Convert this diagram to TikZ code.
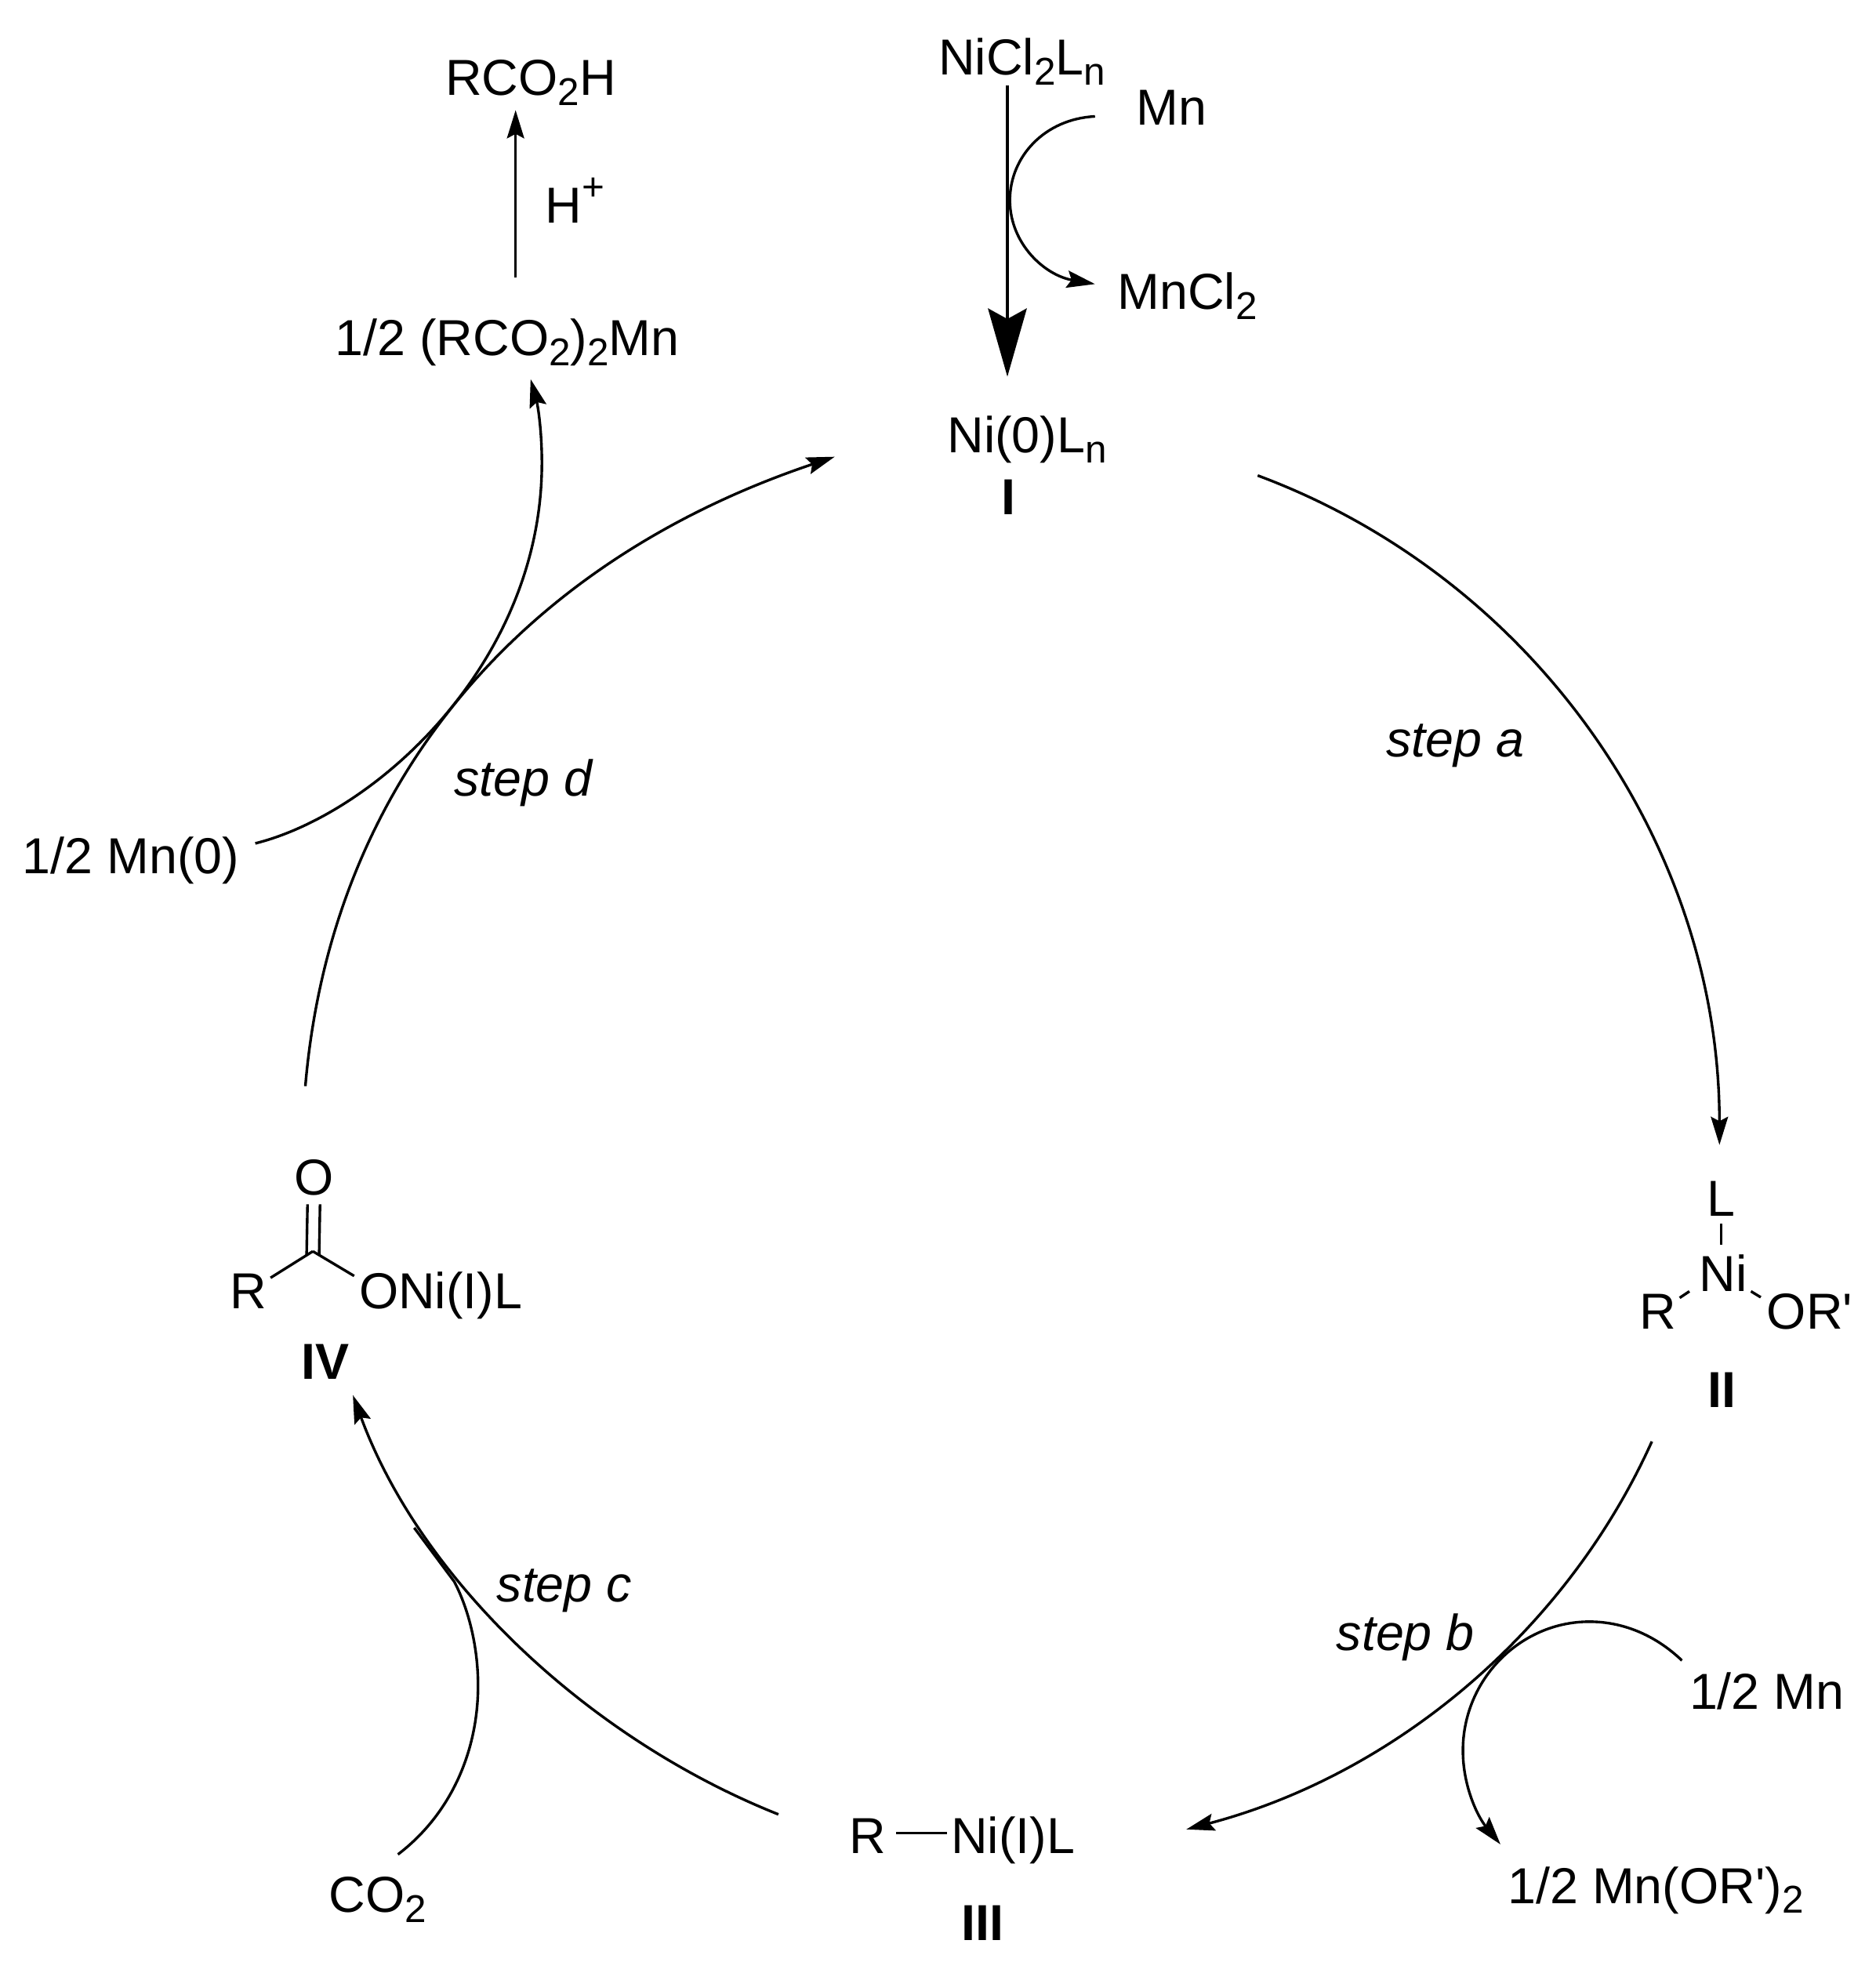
\documentclass[tikz,border=0pt]{standalone}
\usepackage{fontspec}
\setmainfont[Ligatures=TeXOff]{Liberation Sans}
\usetikzlibrary{arrows.meta}
\newcommand{\sbs}[1]{\raisebox{-0.2em}{\fontsize{8.8}{9}\selectfont #1}}
\newcommand{\sps}[1]{\raisebox{0.45em}{\fontsize{8.8}{9}\selectfont #1}}
\tikzset{
  every node/.style={font=\fontsize{11.5}{13}\selectfont, inner sep=0pt, outer sep=0pt},
  chem/.style={anchor=base west},
  cmpd/.style={anchor=base, font=\fontsize{11.5}{13}\selectfont\bfseries},
  stepname/.style={anchor=base west, font=\fontsize{11.5}{13}\selectfont\itshape},
  arc/.style={line width=0.6pt, -{Stealth[length=6.4pt, width=3.9pt, inset=1pt]}},
  side/.style={line width=0.6pt},
  bond/.style={line width=0.6pt}
}
\begin{document}
\begin{tikzpicture}[x=0.01cm, y=-0.01cm]
  \useasboundingbox (0,0) rectangle (1499,1568);

  \node[chem] (nicl) at (750,60) {NiCl\sbs{2}L\sbs{n}};
  \node[chem] (mn) at (908,100) {Mn};
  \node[chem] (mncl) at (893,247) {MnCl\sbs{2}};
  \node[chem] (ni0) at (757,362) {Ni(0)L\sbs{n}};
  \node[cmpd] (cI) at (806,411) {I};
  \node[chem] (acid) at (356,76) {RCO\sbs{2}H};
  \node[chem] (hplus) at (436,178) {H\sps{+}};
  \node[chem] (salt) at (268,284) {1/2 (RCO\sbs{2})\sbs{2}Mn};
  \node[chem] (mnzero) at (18,698) {1/2 Mn(0)};
  \node[chem] (mnhalf) at (1350,1366) {1/2 Mn};
  \node[chem] (mnor) at (1205,1521) {1/2 Mn(OR')\sbs{2}};
  \node[chem] (coo) at (263,1528) {CO\sbs{2}};

  \node[stepname] (stepa) at (1108,605) {step a};
  \node[stepname] (stepb) at (1068,1319) {step b};
  \node[stepname] (stepc) at (397,1280) {step c};
  \node[stepname] (stepd) at (363,636) {step d};

  \node[chem] (lII) at (1364,972) {L};
  \node[chem] (niII) at (1358,1032) {Ni};
  \node[chem] (rII) at (1310,1062) {R};
  \node[chem] (orII) at (1412,1062) {OR'};
  \node[cmpd] (cII) at (1376,1125) {II};

  \node[chem] (rIII) at (679,1481) {R};
  \node[chem] (niIII) at (760,1481) {Ni(I)L};
  \node[cmpd] (cIII) at (785,1551) {III};

  \node[chem] (oIV) at (235,955) {O};
  \node[chem] (rIV) at (184,1046) {R};
  \node[chem] (niIV) at (287,1046) {ONi(I)L};
  \node[cmpd] (cIV) at (260,1102) {IV};

  \coordinate (a0) at (1005,380);
  \coordinate (a1) at (1374,915);
  \coordinate (b0) at (1320,1152);
  \coordinate (b1) at (948,1462);
  \coordinate (c0) at (622,1450);
  \coordinate (c1) at (282,1115);
  \coordinate (d0) at (244,868);
  \coordinate (d1) at (667,365);
  \coordinate (top0) at (805,68);
  \coordinate (top1) at (805,301);
  \coordinate (acid0) at (412,222);
  \coordinate (acid1) at (412,88);
  \coordinate (mn0) at (875,93);
  \coordinate (mn1) at (875,227);
  \coordinate (zero0) at (204,674);
  \coordinate (zero1) at (424,303);
  \coordinate (half0) at (1344,1327);
  \coordinate (half1) at (1199,1474);
  \coordinate (coo0) at (318,1482);
  \coordinate (coo1) at (331,1221);
  \coordinate (carbon) at (250,1000);

  \draw[arc] (a0) .. controls (1228,463) and (1374,677) .. (a1);
  \draw[arc] (b0) .. controls (1252,1303) and (1115,1418) .. (b1);
  \draw[arc] (c0) .. controls (469,1389) and (336,1262) .. (c1);
  \draw[arc] (d0) .. controls (265,622) and (420,448) .. (d1);

  \draw[line width=0.65pt, -{Stealth[length=15.5pt, width=8.8pt, inset=2.4pt]}] (top0) -- (top1);
  \draw[arc] (acid0) -- (acid1);
  \draw[arc] (mn0) .. controls (835,95) and (807,125) .. (807,160) .. controls (807,195) and (835,220) .. (mn1);
  \draw[arc] (zero0) .. controls (300,650) and (433,530) .. (433,370) .. controls (433,345) and (430,325) .. (zero1);
  \draw[arc] (half0) .. controls (1322,1306) and (1296,1296) .. (1270,1296) .. controls (1215,1296) and (1169,1342) .. (1169,1399) .. controls (1169,1428) and (1181,1452) .. (half1);
  \draw[side] (coo0) .. controls (360,1450) and (382,1400) .. (382,1347) .. controls (382,1315) and (374,1285) .. (363,1264) -- (coo1);

  \draw[bond] ([yshift=-0.06cm]lII.south) -- ([yshift=0.08cm]lII.south |- niII.north);
  \draw[bond] ([xshift=0.03cm,yshift=-0.03cm]rII.north east) -- ([xshift=-0.08cm]niII.south west);
  \draw[bond] ([xshift=0.03cm]niII.south east) -- ([xshift=-0.05cm,yshift=-0.03cm]orII.north west);
  \draw[bond] ([xshift=0.08cm,yshift=0.16cm]rIII.base east) -- ([xshift=-0.03cm,yshift=0.16cm]niIII.base west);
  \draw[bond] ([xshift=-0.05cm,yshift=-0.07cm]oIV.south) -- ([xshift=-0.05cm,yshift=-0.03cm]carbon);
  \draw[bond] ([xshift=0.05cm,yshift=-0.07cm]oIV.south) -- ([xshift=0.05cm,yshift=-0.03cm]carbon);
  \draw[bond] ([xshift=0.03cm,yshift=-0.03cm]rIV.north east) -- (carbon);
  \draw[bond] (carbon) -- ([xshift=-0.04cm,yshift=-0.03cm]niIV.north west);
\end{tikzpicture}
\end{document}
